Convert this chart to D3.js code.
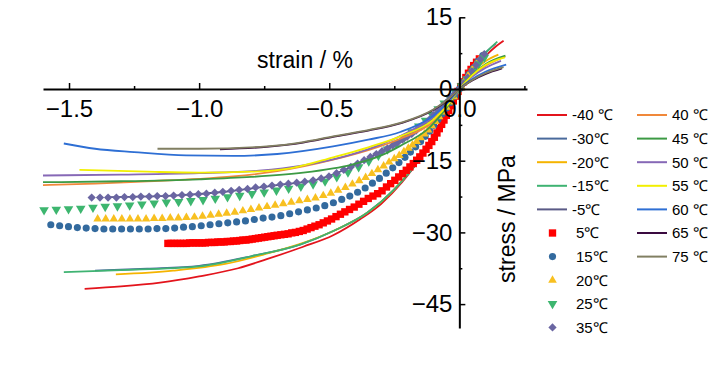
<!DOCTYPE html>
<html>
<head>
<meta charset="utf-8">
<script src="https://cdn.jsdelivr.net/npm/d3@7"></script>
<style>
  body { margin: 0; background: #fff; }
  text { font-family: "Liberation Sans", Arial, sans-serif; fill: #000; }
</style>
</head>
<body>
<div id="chart"></div>
<script>
// strain (%) / stress (MPa) pairs
const lineM40 = [[-1.44,-41.8],[-1.3,-41.3],[-1.15,-40.5],[-1.0,-39.2],[-0.85,-37.5],[-0.74,-35.6],[-0.6,-33.0],[-0.485,-30.6],[-0.38,-27.2],[-0.3,-24.0],[-0.22,-19.5],[-0.15,-14.5],[-0.09,-9.5],[-0.04,-4.5],[0,0],[0.05,3.9],[0.1,6.9],[0.14,8.9],[0.17,10.1]];
const lineM30 = [[-1.4,-38.0],[-1.2,-37.6],[-1.0,-37.0],[-0.8,-35.0],[-0.61,-32.5],[-0.48,-29.6],[-0.354,-25.9],[-0.25,-21.0],[-0.15,-14.5],[-0.08,-8.4],[0,0],[0.05,4.3],[0.1,7.6],[0.14,9.5]];
const lineM20 = [[-1.32,-38.8],[-1.1,-38.0],[-0.9,-36.6],[-0.75,-34.6],[-0.6,-32.2],[-0.48,-29.6],[-0.354,-25.9],[-0.25,-21.0],[-0.15,-14.3],[-0.08,-8.3],[0,0],[0.05,3.5],[0.1,5.8],[0.15,7.2]];
const lineM15 = [[-1.52,-38.3],[-1.3,-37.9],[-1.0,-37.1],[-0.8,-35.0],[-0.61,-32.5],[-0.48,-29.6],[-0.354,-25.9],[-0.25,-21.0],[-0.15,-14.5],[-0.08,-8.5],[0,0],[0.05,4.2],[0.1,7.5],[0.146,9.9]];
const lineM5 = [[-1.35,-22.6],[-1.1,-22.3],[-0.9,-21.5],[-0.7,-20.1],[-0.55,-19.0],[-0.44,-16.9],[-0.32,-13.6],[-0.2,-10.0],[-0.1,-5.5],[0,0],[0.05,3.6],[0.09,6.6]];

const pts5 = [[-1.12,-32.3],[-1.108,-32.3],[-1.096,-32.3],[-1.084,-32.3],[-1.072,-32.3],[-1.06,-32.3],[-1.048,-32.3],[-1.036,-32.2],[-1.024,-32.2],[-1.012,-32.2],[-1.0,-32.2],[-0.988,-32.2],[-0.976,-32.2],[-0.964,-32.1],[-0.952,-32.1],[-0.94,-32.1],[-0.928,-32.0],[-0.916,-32.0],[-0.904,-32.0],[-0.892,-31.9],[-0.88,-31.9],[-0.868,-31.8],[-0.856,-31.8],[-0.844,-31.7],[-0.832,-31.6],[-0.82,-31.6],[-0.808,-31.5],[-0.796,-31.4],[-0.784,-31.3],[-0.772,-31.2],[-0.76,-31.1],[-0.748,-31.0],[-0.736,-30.9],[-0.724,-30.8],[-0.712,-30.7],[-0.7,-30.6],[-0.686,-30.5],[-0.672,-30.4],[-0.658,-30.3],[-0.644,-30.1],[-0.63,-30.0],[-0.615,-29.8],[-0.6,-29.6],[-0.585,-29.3],[-0.57,-29.0],[-0.555,-28.7],[-0.539,-28.4],[-0.523,-28.0],[-0.507,-27.6],[-0.491,-27.2],[-0.474,-26.7],[-0.457,-26.2],[-0.44,-25.7],[-0.422,-25.2],[-0.404,-24.7],[-0.386,-24.1],[-0.368,-23.5],[-0.35,-22.9],[-0.332,-22.4],[-0.314,-21.9],[-0.297,-21.3],[-0.28,-20.5],[-0.264,-19.8],[-0.248,-19.1],[-0.233,-18.4],[-0.218,-17.7],[-0.204,-17.0],[-0.19,-16.3],[-0.177,-15.6],[-0.164,-14.9],[-0.152,-14.2],[-0.14,-13.4],[-0.128,-12.6],[-0.117,-11.8],[-0.106,-11.0],[-0.096,-10.1],[-0.086,-9.2],[-0.077,-8.3],[-0.068,-7.4],[-0.059,-6.5],[-0.05,-5.5],[-0.041,-4.5],[-0.032,-3.5],[-0.023,-2.5],[-0.014,-1.5],[-0.005,-0.5],[0.005,0.5],[0.015,1.5],[0.025,2.4],[0.035,3.3],[0.045,4.1],[0.055,4.9],[0.066,5.6],[0.077,6.3]];
const pts15 = [[-1.57,-28.4],[-1.536,-28.6],[-1.502,-28.8],[-1.468,-29.0],[-1.434,-29.1],[-1.4,-29.2],[-1.366,-29.3],[-1.332,-29.3],[-1.298,-29.3],[-1.264,-29.3],[-1.23,-29.3],[-1.196,-29.3],[-1.162,-29.2],[-1.128,-29.2],[-1.094,-29.1],[-1.06,-28.9],[-1.026,-28.8],[-0.992,-28.6],[-0.958,-28.4],[-0.924,-28.2],[-0.89,-28.0],[-0.856,-27.8],[-0.822,-27.6],[-0.788,-27.3],[-0.754,-27.0],[-0.72,-26.8],[-0.686,-26.5],[-0.652,-26.1],[-0.618,-25.7],[-0.584,-25.3],[-0.55,-24.9],[-0.517,-24.4],[-0.484,-23.8],[-0.452,-23.1],[-0.421,-22.4],[-0.391,-21.6],[-0.362,-20.7],[-0.334,-19.7],[-0.307,-18.7],[-0.281,-17.6],[-0.256,-16.5],[-0.232,-15.4],[-0.209,-14.3],[-0.188,-13.2],[-0.168,-12.1],[-0.149,-11.0],[-0.131,-9.9],[-0.114,-8.8],[-0.098,-7.6],[-0.082,-6.4],[-0.066,-5.2],[-0.05,-4.0],[-0.034,-2.8],[-0.018,-1.5],[0,0],[0.018,1.5],[0.036,3.0],[0.054,4.4],[0.072,5.8],[0.09,7.0]];
const pts20 = [[-1.39,-27.2],[-1.359,-27.2],[-1.328,-27.2],[-1.297,-27.2],[-1.266,-27.2],[-1.235,-27.2],[-1.204,-27.2],[-1.173,-27.1],[-1.142,-27.1],[-1.111,-27.0],[-1.08,-27.0],[-1.049,-26.9],[-1.018,-26.8],[-0.987,-26.6],[-0.956,-26.4],[-0.925,-26.2],[-0.894,-26.0],[-0.863,-25.8],[-0.832,-25.5],[-0.801,-25.2],[-0.77,-24.9],[-0.739,-24.6],[-0.708,-24.3],[-0.677,-24.0],[-0.646,-23.7],[-0.615,-23.4],[-0.584,-23.1],[-0.553,-22.8],[-0.523,-22.3],[-0.494,-21.8],[-0.466,-21.2],[-0.438,-20.6],[-0.411,-19.9],[-0.385,-19.2],[-0.36,-18.5],[-0.336,-17.7],[-0.313,-16.9],[-0.291,-16.1],[-0.27,-15.3],[-0.25,-14.6],[-0.231,-13.9],[-0.213,-13.1],[-0.196,-12.4],[-0.18,-11.7],[-0.164,-11.0],[-0.149,-10.2],[-0.134,-9.4],[-0.12,-8.6],[-0.106,-7.7],[-0.092,-6.8],[-0.078,-5.8],[-0.064,-4.8],[-0.05,-3.8],[-0.036,-2.7],[-0.022,-1.6],[-0.008,-0.6],[0.006,0.5],[0.02,1.7],[0.034,2.8],[0.048,3.9],[0.062,5.0],[0.076,6.0],[0.09,6.8]];
const pts25 = [[-1.596,-25.3],[-1.549,-25.2],[-1.502,-25.1],[-1.455,-25.0],[-1.408,-24.8],[-1.361,-24.6],[-1.314,-24.5],[-1.267,-24.3],[-1.22,-24.1],[-1.173,-23.9],[-1.126,-23.7],[-1.079,-23.6],[-1.032,-23.4],[-0.985,-23.2],[-0.938,-22.9],[-0.891,-22.6],[-0.844,-22.3],[-0.797,-21.9],[-0.75,-21.6],[-0.703,-21.2],[-0.656,-20.8],[-0.609,-20.4],[-0.562,-19.9],[-0.516,-19.3],[-0.471,-18.4],[-0.428,-17.4],[-0.387,-16.3],[-0.348,-15.1],[-0.311,-13.9],[-0.276,-12.6],[-0.243,-11.4],[-0.212,-10.2],[-0.183,-9.0],[-0.156,-7.8],[-0.13,-6.6],[-0.105,-5.4],[-0.081,-4.2],[-0.058,-3.0],[-0.036,-1.9],[-0.014,-0.7],[0.008,0.6],[0.03,2.1],[0.052,3.7],[0.074,5.2],[0.096,6.6]];
const pts35 = [[-1.413,-22.7],[-1.381,-22.7],[-1.35,-22.7],[-1.318,-22.7],[-1.287,-22.6],[-1.255,-22.6],[-1.224,-22.5],[-1.192,-22.5],[-1.161,-22.4],[-1.129,-22.4],[-1.098,-22.3],[-1.066,-22.2],[-1.035,-22.1],[-1.003,-22.0],[-0.972,-21.9],[-0.94,-21.7],[-0.909,-21.5],[-0.877,-21.3],[-0.846,-21.1],[-0.814,-20.9],[-0.783,-20.6],[-0.751,-20.4],[-0.72,-20.2],[-0.688,-20.0],[-0.657,-19.8],[-0.625,-19.6],[-0.594,-19.4],[-0.562,-19.1],[-0.531,-18.7],[-0.501,-18.3],[-0.472,-17.6],[-0.444,-16.9],[-0.417,-16.3],[-0.391,-15.6],[-0.366,-14.9],[-0.342,-14.2],[-0.319,-13.6],[-0.297,-13.0],[-0.276,-12.4],[-0.256,-11.8],[-0.237,-11.2],[-0.219,-10.6],[-0.201,-10.0],[-0.183,-9.4],[-0.166,-8.7],[-0.149,-8.0],[-0.132,-7.3],[-0.115,-6.4],[-0.098,-5.4],[-0.082,-4.5],[-0.066,-3.6],[-0.05,-2.8],[-0.034,-1.9],[-0.018,-1.0],[0,0],[0.016,1.2],[0.032,2.4],[0.048,3.7],[0.064,5.0],[0.08,6.2],[0.096,7.3]];

const line40 = [[-1.6,-20.1],[-1.4,-19.8],[-1.2,-19.3],[-1.0,-18.8],[-0.87,-18.3],[-0.7,-17.2],[-0.485,-14.8],[-0.35,-12.8],[-0.227,-10.4],[-0.1,-6.8],[-0.04,-3.2],[0,0],[0.05,2.8],[0.1,4.8],[0.177,6.8]];
const line45 = [[-1.6,-19.5],[-1.3,-19.3],[-1.0,-18.9],[-0.8,-18.4],[-0.6,-17.5],[-0.485,-16.6],[-0.42,-15.9],[-0.3,-13.9],[-0.227,-11.9],[-0.11,-7.8],[-0.05,-4.0],[0,0],[0.05,3.0],[0.1,5.2],[0.177,7.0]];
const line50 = [[-1.6,-18.1],[-1.3,-17.9],[-1.0,-17.6],[-0.77,-17.1],[-0.6,-16.0],[-0.42,-13.8],[-0.3,-11.6],[-0.2,-9.1],[-0.1,-5.8],[-0.04,-2.7],[0,0],[0.05,2.6],[0.1,4.4],[0.16,5.9]];
const line55 = [[-1.46,-16.9],[-1.2,-17.3],[-1.0,-17.5],[-0.8,-17.3],[-0.65,-16.6],[-0.485,-14.3],[-0.35,-12.2],[-0.227,-9.9],[-0.1,-6.4],[-0.04,-3.0],[0,0],[0.05,2.9],[0.1,5.0],[0.175,6.6]];
const line60 = [[-1.52,-11.4],[-1.4,-12.5],[-1.25,-13.2],[-1.05,-13.9],[-0.87,-14.0],[-0.7,-13.6],[-0.485,-12.0],[-0.35,-10.6],[-0.227,-9.0],[-0.1,-5.6],[-0.04,-2.6],[0,0],[0.05,2.1],[0.1,3.6],[0.18,5.1]];
const line65 = [[-0.92,-12.6],[-0.74,-12.1],[-0.6,-11.2],[-0.485,-10.0],[-0.35,-8.7],[-0.227,-7.2],[-0.1,-4.4],[-0.04,-2.1],[0,0],[0.05,1.8],[0.1,3.1],[0.164,4.3]];
const line75 = [[-1.16,-12.5],[-1.0,-12.5],[-0.74,-12.0],[-0.6,-11.1],[-0.485,-9.9],[-0.35,-8.6],[-0.227,-7.1],[-0.1,-4.3],[-0.04,-2.0],[0,0],[0.05,1.9],[0.1,3.3],[0.17,4.6]];

const xMajor = [-1.5, -1.0, -0.5, 0.0];
const xMinor = [-1.25, -0.75, -0.25, 0.25];
const yMajor = [15, 0, -15, -30, -45];
const yMinor = [7.5, -7.5, -22.5, -37.5];

const legendCol1 = ["-40 ℃", "-30℃", "-20℃", "-15℃", "-5℃", "5℃", "15℃", "20℃", "25℃", "35℃"];
const legendCol2 = ["40 ℃", "45 ℃", "50 ℃", "55 ℃", "60 ℃", "65 ℃", "75 ℃"];

// series list: data, type, color
const series = [
    { key: "-40 ℃", data: lineM40, type: "line", color: "#e3141c" },
    { key: "-30℃", data: lineM30, type: "line", color: "#4a6a9c" },
    { key: "-20℃", data: lineM20, type: "line", color: "#f5b400" },
    { key: "-15℃", data: lineM15, type: "line", color: "#3fb372" },
    { key: "-5℃", data: lineM5, type: "line", color: "#5a5a86" },
    { key: "5℃", data: pts5, type: "square", color: "#ff0000" },
    { key: "15℃", data: pts15, type: "circle", color: "#336a9e" },
    { key: "20℃", data: pts20, type: "up", color: "#f8c020" },
    { key: "25℃", data: pts25, type: "down", color: "#3db66f" },
    { key: "35℃", data: pts35, type: "diamond", color: "#6a66a2" },
    { key: "40 ℃", data: line40, type: "line", color: "#f0883a" },
    { key: "45 ℃", data: line45, type: "line", color: "#3c9a44" },
    { key: "50 ℃", data: line50, type: "line", color: "#8668b6" },
    { key: "55 ℃", data: line55, type: "line", color: "#f2ef00" },
    { key: "60 ℃", data: line60, type: "line", color: "#2e6fd4" },
    { key: "65 ℃", data: line65, type: "line", color: "#3a0a40" },
    { key: "75 ℃", data: line75, type: "line", color: "#817f62" }
];

const width = 727, height = 390;

const svg = d3.select("#chart")
    .append("svg")
    .attr("width", width)
    .attr("height", height);

const x = d3.scaleLinear().domain([-1.6, 0.26]).range([43, 527]);
const y = d3.scaleLinear().domain([-50, 15]).range([328, 17.3]);

// marker shapes
function markerPath(type) {
    if (type === "square") return d3.symbol(d3.symbolSquare, 54)();
    if (type === "circle") return d3.symbol(d3.symbolCircle, 40)();
    if (type === "up") return d3.symbol(d3.symbolTriangle, 32)();
    if (type === "down") return d3.symbol(d3.symbolTriangle, 40)();
    if (type === "diamond") return d3.symbol(d3.symbolSquare, 34)();
}
function markerRotate(type) {
    if (type === "down") return " rotate(180)";
    if (type === "diamond") return " rotate(45)";
    return "";
}

const line = d3.line()
    .x(d => x(d[0]))
    .y(d => y(d[1]))
    .curve(d3.curveMonotoneX);

const plot = svg.append("g");

series.forEach(s => {
    if (s.type === "line") {
        plot.append("path")
            .datum(s.data)
            .attr("fill", "none")
            .attr("stroke", s.color)
            .attr("stroke-width", 1.8)
            .attr("d", line);
    } else {
        plot.append("g")
            .selectAll("path")
            .data(s.data)
            .enter()
            .append("path")
            .attr("d", markerPath(s.type))
            .attr("transform", d => "translate(" + x(d[0]) + "," + y(d[1]) + ")" + markerRotate(s.type))
            .attr("fill", s.color);
    }
});

// x axis, ticks pointing up, labels below
const xAxisG = svg.append("g").attr("transform", "translate(0," + y(0) + ")");
xAxisG.call(d3.axisBottom(x).tickValues(xMajor).tickFormat(d3.format(".1f"))
    .tickSizeInner(-6).tickSizeOuter(0).tickPadding(11));
xAxisG.append("g").call(d3.axisBottom(x).tickValues(xMinor).tickFormat("")
    .tickSizeInner(-3).tickSizeOuter(0))
    .select(".domain").remove();

// y axis, ticks pointing right, labels left
const yAxisG = svg.append("g").attr("transform", "translate(" + x(0) + ",0)");
yAxisG.call(d3.axisLeft(y).tickValues(yMajor).tickFormat(d3.format("d"))
    .tickSizeInner(-6).tickSizeOuter(0).tickPadding(7));
yAxisG.append("g").call(d3.axisLeft(y).tickValues(yMinor).tickFormat("")
    .tickSizeInner(-3).tickSizeOuter(0))
    .select(".domain").remove();

svg.selectAll(".domain").attr("stroke", "#000").attr("stroke-width", 2);
svg.selectAll(".tick line").attr("stroke", "#000").attr("stroke-width", 1.5);
svg.selectAll(".tick text")
    .attr("font-size", 24)
    .attr("font-family", "'Liberation Sans', Arial, sans-serif")
    .attr("fill", "#000");

// axis titles
svg.append("text")
    .attr("x", 257)
    .attr("y", 68)
    .attr("font-size", 23)
    .text("strain / %");

svg.append("text")
    .attr("transform", "translate(515,219) rotate(-90)")
    .attr("text-anchor", "middle")
    .attr("font-size", 23)
    .text("stress / MPa");

// legend
const legendTop = 115, legendStep = 23.6;
function drawLegend(labels, lineX, textX) {
    labels.forEach((lab, i) => {
        const s = series.find(d => d.key === lab);
        const cy = legendTop + i * legendStep;
        const g = svg.append("g");
        if (s.type === "line") {
            g.append("line")
                .attr("x1", lineX).attr("x2", lineX + 30)
                .attr("y1", cy).attr("y2", cy)
                .attr("stroke", s.color)
                .attr("stroke-width", 2);
            g.append("text")
                .attr("x", textX)
                .attr("y", cy)
                .attr("dy", "0.36em")
                .attr("font-size", 15)
                .text(lab);
        } else {
            g.append("path")
                .attr("d", markerPath(s.type))
                .attr("transform", "translate(" + (lineX + 15.5) + "," + cy + ")" + markerRotate(s.type))
                .attr("fill", s.color);
            g.append("text")
                .attr("x", textX + 4)
                .attr("y", cy)
                .attr("dy", "0.36em")
                .attr("font-size", 15)
                .text(lab);
        }
    });
}
drawLegend(legendCol1, 537, 572);
drawLegend(legendCol2, 637, 672);
</script>
</body>
</html>
